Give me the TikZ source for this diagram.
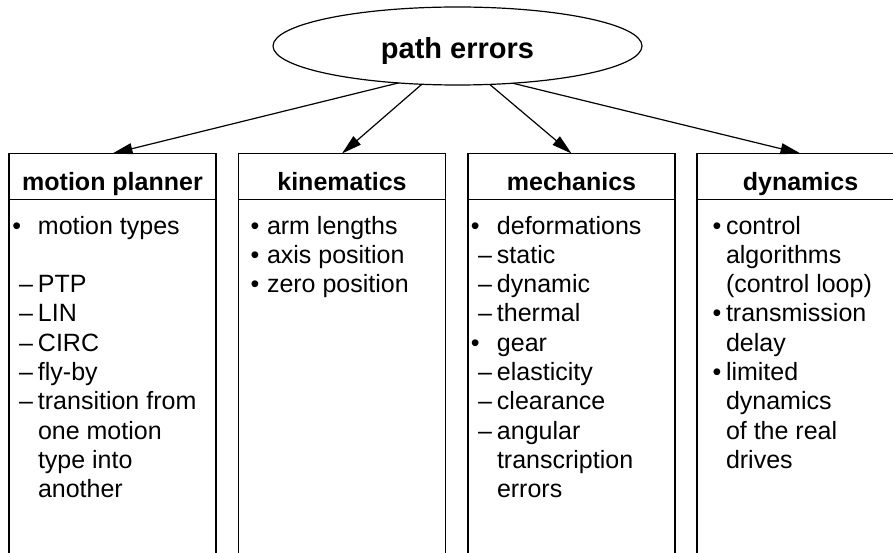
\documentclass[tikz,border=0pt]{standalone}
\usepackage{fontspec}
\setmainfont{Liberation Sans}
\usetikzlibrary{shapes.geometric,arrows.meta}
\newcommand\mkbul[1]{\llap{•\hspace{#1}}}
\newcommand\mkdash{\llap{–\hspace{5pt}}}
\begin{document}
\begin{tikzpicture}[x=1pt,y=-1pt,
  every node/.style={inner sep=0pt, outer sep=0pt},
  hdr/.style={draw, line width=1.2pt, minimum width=207pt, minimum height=46pt,
    text height=33pt, text depth=5pt, font=\fontsize{25pt}{30pt}\selectfont\bfseries},
  item/.style={anchor=base west, font=\fontsize{25pt}{30pt}\selectfont},
  conn/.style={line width=1.2pt, -{Triangle[length=20pt,width=11pt]}},
  side/.style={line width=1.2pt}]
\path[use as bounding box, clip] (0,0) rectangle (893,553);

\node[ellipse, draw, line width=1.2pt, minimum width=369pt, minimum height=78pt,
  text height=26pt, text depth=0pt, font=\fontsize{29pt}{32pt}\selectfont\bfseries]
  (pe) at (457.5,46) {path errors};

\node[hdr] (h1) at (112.5,176.5) {motion planner};
\node[hdr] (h2) at (342,176.5) {kinematics};
\node[hdr] (h3) at (571.5,176.5) {mechanics};
\node[hdr] (h4) at (800.5,176.5) {dynamics};

\foreach \h in {h1,h2,h3,h4}{
  \draw[side] (\h.south west) -- ++(0,380);
  \draw[side] (\h.south east) -- ++(0,380);
}

\draw[conn] (pe.212.8) -- (h1.north);
\draw[conn] (pe.227.2) -- (h2.north);
\draw[conn] (pe.310.2) -- (h3.north);
\draw[conn] (pe.326.2) -- (h4.north);

\foreach \t [count=\i] in {{\mkbul{16.75pt}motion types},{},{\mkdash PTP},{\mkdash LIN},{\mkdash CIRC},{\mkdash fly-by},{\mkdash transition from},{one motion},{type into},{another}}
  \node[item] (a\i) at (38,{204.7+29.3*\i}) {\t};

\foreach \t [count=\i] in {{\mkbul{7.75pt}arm lengths},{\mkbul{7.75pt}axis position},{\mkbul{7.75pt}zero position}}
  \node[item] (b\i) at (267,{204.7+29.3*\i}) {\t};

\foreach \t [count=\i] in {{\mkbul{17.5pt}deformations},{\mkdash static},{\mkdash dynamic},{\mkdash thermal},{\mkbul{17.5pt}gear},{\mkdash elasticity},{\mkdash clearance},{\mkdash angular},{transcription},{errors}}
  \node[item] (c\i) at (497,{204.7+29.3*\i}) {\t};

\foreach \t [count=\i] in {{\mkbul{4.75pt}control},{algorithms},{(control loop)},{\mkbul{4.75pt}transmission},{delay},{\mkbul{4.75pt}limited},{dynamics},{of the real},{drives}}
  \node[item] (d\i) at (726,{204.7+29.3*\i}) {\t};
\end{tikzpicture}
\end{document}
